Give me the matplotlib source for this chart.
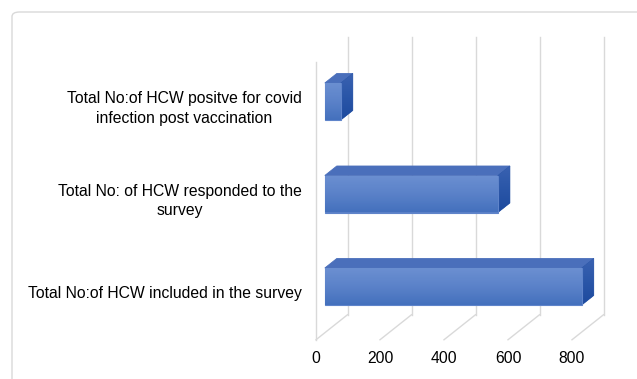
import matplotlib
matplotlib.use("Agg")
import matplotlib.pyplot as plt
import numpy as np
from matplotlib.patches import Polygon, FancyBboxPatch
from matplotlib.colors import LinearSegmentedColormap

plt.rcParams['font.family'] = ['Liberation Sans', 'DejaVu Sans']

# ---- data ----
categories = [
    "Total No:of HCW included in the survey",
    "Total No: of HCW responded to the\nsurvey",
    "Total No:of HCW positve for covid\ninfection post vaccination",
]
values = [803, 541, 50]
ticks = [0, 200, 400, 600, 800]

# ---- layout (pixels) ----
W, H = 637, 379
x0_px = 316.0          # value 0 on the front plane
px_per_unit = 0.32     # horizontal scale
cat0_px = 293.5        # centre of first category on front plane (from top)
px_per_cat = 92.5
depth_dx_px, depth_dy_px = 31.5, -25.0   # front -> back offset
bar_half = 0.2         # half bar thickness in category units
f_front, f_back = 0.28, 0.66             # bar depth span (fraction of depth)
font_size = 11.3

fig = plt.figure(figsize=(W / 100, H / 100), dpi=100)
fig.patch.set_facecolor("white")

# chart frame
frame = FancyBboxPatch((12 / W, -0.1), 1.2, (H - 12) / H + 0.1,
                       boxstyle="round,pad=0,rounding_size=0.012",
                       transform=fig.transFigure, fill=False,
                       edgecolor="#d9d9d9", linewidth=1.0)
fig.patches.append(frame)

ax = fig.add_axes([0, 0, 1, 1])
ax.axis("off")

ddx = depth_dx_px / px_per_unit          # depth offset in value units
ddy = -depth_dy_px / px_per_cat          # depth offset in category units (up)

lo = -0.5
hi = len(categories) - 0.5
grid_c = "#d9d9d9"

# back wall verticals and floor diagonals
for t in ticks:
    ax.plot([t + ddx, t + ddx], [lo + ddy, hi + ddy], color=grid_c, lw=1.0, zorder=1)
    ax.plot([t, t + ddx], [lo, lo + ddy], color=grid_c, lw=1.0, zorder=1)
# side wall front edge
ax.plot([0, 0], [lo, hi], color=grid_c, lw=1.0, zorder=1)

front_cmap = LinearSegmentedColormap.from_list("front", ["#4470bd", "#5b82c9", "#6b8fd1"])
side_cmap = LinearSegmentedColormap.from_list("side", ["#1d4a9e", "#2a56a8", "#3a62b1"])
grad = np.linspace(0, 1, 64).reshape(-1, 1)

for i, v in enumerate(values):
    fx, fy = f_front * ddx, f_front * ddy
    bx, by = f_back * ddx, f_back * ddy
    yb, yt = i - bar_half, i + bar_half

    front = [(fx, yb + fy), (v + fx, yb + fy), (v + fx, yt + fy), (fx, yt + fy)]
    top = [(fx, yt + fy), (v + fx, yt + fy), (v + bx, yt + by), (bx, yt + by)]
    side = [(v + fx, yb + fy), (v + bx, yb + by), (v + bx, yt + by), (v + fx, yt + fy)]

    ax.add_patch(Polygon(top, closed=True, facecolor="#4a6fbb", edgecolor="#4a6fbb",
                         lw=0.6, zorder=3))

    sp = Polygon(side, closed=True, facecolor="#2a56a8", edgecolor="#2a56a8",
                 lw=0.5, zorder=3)
    ax.add_patch(sp)
    im = ax.imshow(grad, cmap=side_cmap, origin="lower", aspect="auto",
                   extent=(v + fx, v + bx, yb + fy, yt + by), zorder=3.2,
                   interpolation="bilinear")
    im.set_clip_path(sp)

    fp = Polygon(front, closed=True, facecolor="#5a80c7", edgecolor="#5f84ca",
                 lw=0.8, zorder=3.4)
    ax.add_patch(fp)
    im2 = ax.imshow(grad, cmap=front_cmap, origin="lower", aspect="auto",
                    extent=(fx, v + fx, yb + fy, yt + fy), zorder=3.5,
                    interpolation="bilinear")
    im2.set_clip_path(fp)

ax.set_xlim(-x0_px / px_per_unit, (W - x0_px) / px_per_unit)
ax.set_ylim((cat0_px - H) / px_per_cat, cat0_px / px_per_cat)

# category labels
label_x = -14 / px_per_unit
for i, name in enumerate(categories):
    ax.text(label_x, i, name, ha="right", va="center", multialignment="center",
            fontsize=font_size, color="#000000", linespacing=1.35, zorder=5)

# value-axis tick labels
tick_y = lo - 18.5 / px_per_cat
for t in ticks:
    ax.text(t, tick_y, str(t), ha="center", va="center", fontsize=font_size,
            color="#000000", zorder=5)

fig.savefig("out.png", dpi=100, facecolor="white")
